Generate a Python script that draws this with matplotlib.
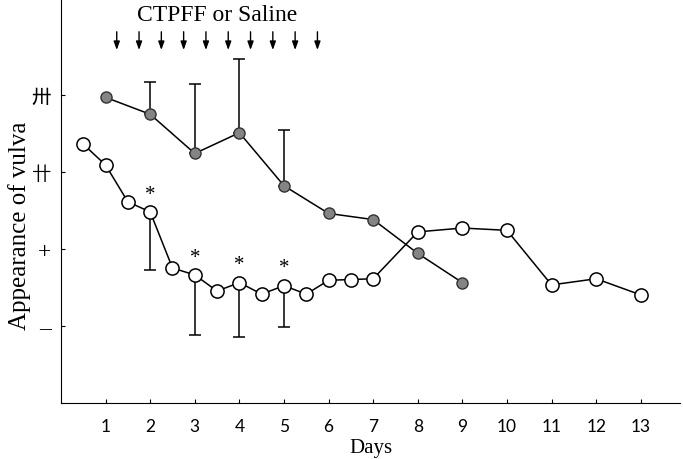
import matplotlib.pyplot as plt

# open circles
open_days = [0.5, 1, 1.5, 2, 2.5, 3, 3.5, 4, 4.5, 5, 5.5, 6, 6.5, 7, 8, 9, 10, 11, 12, 13]
open_score = [3.36, 3.09, 2.61, 2.48, 1.75, 1.66, 1.45, 1.56, 1.41, 1.52, 1.41, 1.59,
              1.60, 1.61, 2.22, 2.27, 2.24, 1.53, 1.61, 1.40]
# filled circles
filled_days = [1, 2, 3, 4, 5, 6, 7, 8, 9]
filled_score = [3.97, 3.75, 3.24, 3.51, 2.82, 2.46, 2.38, 1.94, 1.56]

# error bars (filled: upper, open: lower)
filled_err_days = [2, 3, 4, 5]
filled_err_top = [4.17, 4.15, 4.47, 3.54]
open_err_days = [2, 3, 4, 5]
open_err_bottom = [1.72, 0.88, 0.85, 0.98]
star_days = [2, 3, 4, 5]

inject_days = [1.25, 1.75, 2.25, 2.75, 3.25, 3.75, 4.25, 4.75, 5.25, 5.75]

day_ticks = list(range(1, 14))
score_ticks = [1, 2, 3, 4]
score_labels = ["–", "+", "卄", "卅"]

serif = "Liberation Serif"

fig = plt.figure(figsize=(6.83, 4.6), dpi=100)
ax = fig.add_axes([61 / 683, 56.5 / 460, 619 / 683, 403.5 / 460])

ax.plot(filled_days, filled_score, "-o", color="black", lw=1.1,
        mfc="#848484", mec="#333333", mew=1.0, ms=8, zorder=3)
ax.plot(open_days, open_score, "-o", color="black", lw=1.1,
        mfc="white", mec="black", mew=1.1, ms=9.5, zorder=4)

for d, top in zip(filled_err_days, filled_err_top):
    y = filled_score[filled_days.index(d)]
    ax.errorbar([d], [y], yerr=[[0], [top - y]], fmt="none", ecolor="black",
                elinewidth=1.1, capsize=4, capthick=1.1, zorder=2)
for d, bot in zip(open_err_days, open_err_bottom):
    y = open_score[open_days.index(d)]
    ax.errorbar([d], [y], yerr=[[y - bot], [0]], fmt="none", ecolor="black",
                elinewidth=1.1, capsize=4, capthick=1.1, zorder=2)

for d in star_days:
    y = open_score[open_days.index(d)]
    ax.annotate("*", (d, y), xytext=(0, 6), textcoords="offset points",
                ha="center", va="bottom", fontsize=15, family=serif)

for d in inject_days:
    ax.annotate("", xy=(d, 4.55), xytext=(d, 4.86),
                arrowprops=dict(arrowstyle="-|>,head_length=0.5,head_width=0.18",
                                color="black", lw=1.0), annotation_clip=False)
ax.text(3.5, 5.05, "CTPFF or Saline", ha="center", va="center",
        fontsize=17, family=serif)

ax.set_xlim(0, 13.88)
ax.set_ylim(0, 5.25)
ax.set_xticks(day_ticks)
ax.set_xticklabels([str(d) for d in day_ticks], family="Lato", fontsize=12.5)
ax.set_yticks(score_ticks)
ax.set_yticklabels(score_labels, family=[serif, "Noto Sans CJK JP"], fontsize=14)
for lab in ax.get_yticklabels()[:2]:
    lab.set_fontsize(17)
ax.tick_params(axis="x", direction="in", length=3, pad=11)
ax.tick_params(axis="y", direction="in", length=3, pad=7)
ax.spines["top"].set_visible(False)
ax.spines["right"].set_visible(False)
ax.set_xlabel("Days", family=serif, fontsize=15, labelpad=3)
ax.set_ylabel("Appearance of vulva", family=serif, fontsize=18)
ax.yaxis.set_label_coords(-0.048, 0.44)

fig.savefig("out.png", dpi=100)
